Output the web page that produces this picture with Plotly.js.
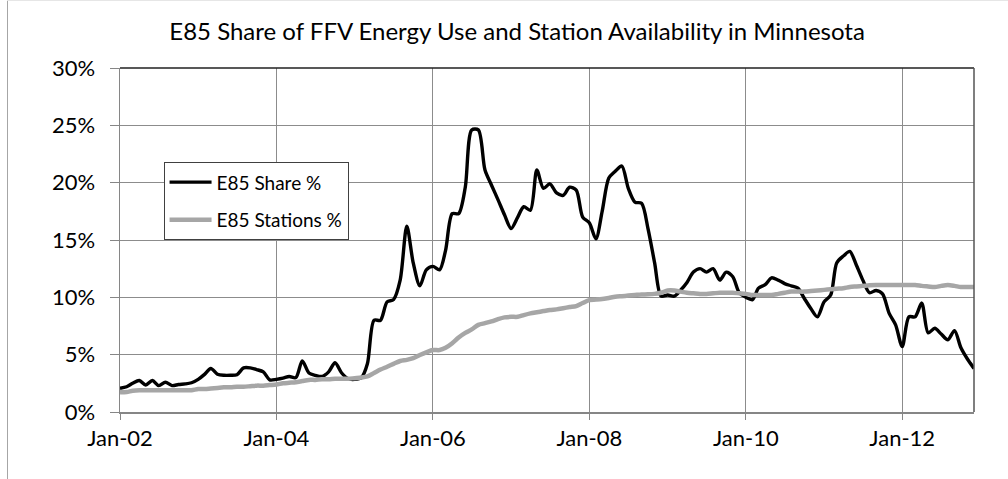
<!DOCTYPE html>
<html>
<head>
<meta charset="utf-8">
<script src="https://cdn.plot.ly/plotly-3.0.1.min.js"></script>
<style>
html,body{margin:0;padding:0;background:#fff;}
#chart{width:1008px;height:479px;position:relative;}
#lborder{position:absolute;left:7px;top:0;width:1px;height:479px;background:#a6a6a6;}
#tborder{position:absolute;left:7px;top:0;width:1001px;height:1px;background:#e6e6e6;}
</style>
</head>
<body>
<div id="chart"></div>
<div id="lborder"></div>
<div id="tborder"></div>
<script>
// Monthly data, Jan 2002 .. Dec 2012 (percent)
const startYear = 2002;
const e85Share = [
  2.07, 2.2, 2.5, 2.75, 2.35, 2.75, 2.3, 2.6, 2.3, 2.4, 2.45, 2.55,
  2.85, 3.3, 3.8, 3.3, 3.2, 3.2, 3.25, 3.85, 3.85, 3.7, 3.5, 2.8,
  2.85, 2.95, 3.1, 3.0, 4.45, 3.4, 3.2, 3.1, 3.5, 4.3, 3.4, 2.9,
  2.85, 3.0, 4.2, 8.0, 8.0, 9.6, 9.8, 11.5, 16.2, 13.0, 11.0, 12.4,
  12.7, 12.4, 14.1, 17.3, 17.3, 19.6, 24.6, 24.6, 21.1, 19.8, 18.5, 17.2,
  16.0, 17.0, 17.9, 17.6, 21.1, 19.5, 19.9, 19.1, 18.9, 19.6, 19.35, 17.0,
  16.5, 15.1, 17.5, 20.4, 21.0, 21.45, 19.5, 18.3, 18.2, 16.0, 13.0, 10.1,
  10.2, 10.1, 10.6, 11.3, 12.2, 12.5, 12.2, 12.5, 11.5, 12.2, 11.8, 10.4,
  10.0, 9.8, 10.8, 11.1, 11.7, 11.5, 11.2, 11.0, 10.8, 9.9, 9.0, 8.3,
  9.6, 10.2, 13.0, 13.6, 14.0, 12.8, 11.5, 10.4, 10.6, 10.3, 8.6, 7.6,
  5.7, 8.3, 8.3, 9.5, 6.9, 7.3, 6.8, 6.3, 7.1, 5.6, 4.6, 3.8
];
const e85Stations = [
  1.72, 1.75, 1.85, 1.9, 1.9, 1.9, 1.9, 1.9, 1.9, 1.9, 1.9, 1.9,
  2.0, 2.0, 2.05, 2.1, 2.15, 2.15, 2.2, 2.2, 2.25, 2.3, 2.3, 2.35,
  2.4, 2.5, 2.55, 2.6, 2.7, 2.8, 2.8, 2.85, 2.85, 2.9, 2.9, 2.9,
  2.95, 3.0, 3.1, 3.4, 3.7, 3.95, 4.2, 4.45, 4.55, 4.7, 4.97, 5.2,
  5.4, 5.4, 5.6, 6.0, 6.5, 6.9, 7.2, 7.6, 7.75, 7.9, 8.1, 8.25,
  8.3, 8.3, 8.45, 8.6, 8.7, 8.8, 8.9, 8.95, 9.05, 9.15, 9.24, 9.5,
  9.76, 9.8, 9.85, 9.95, 10.05, 10.1, 10.15, 10.2, 10.25, 10.26, 10.3, 10.4,
  10.6, 10.6, 10.5, 10.4, 10.35, 10.3, 10.3, 10.35, 10.4, 10.4, 10.4, 10.35,
  10.3, 10.2, 10.2, 10.2, 10.2, 10.3, 10.4, 10.5, 10.5, 10.5, 10.55, 10.6,
  10.65, 10.7, 10.75, 10.8, 10.9, 10.95, 11.0, 11.05, 11.07, 11.07, 11.07, 11.07,
  11.07, 11.07, 11.07, 11.0, 10.95, 10.9, 11.0, 11.07, 11.0, 10.9, 10.9, 10.9
];
const tickDates = ['2002-01-01','2004-01-01','2006-01-01','2008-01-01','2010-01-01','2012-01-01'];
const tickLabels = ['Jan-02','Jan-04','Jan-06','Jan-08','Jan-10','Jan-12'];
const yTicks = [0, 5, 10, 15, 20, 25, 30];
const yTickLabels = ['0%','5%','10%','15%','20%','25%','30%'];

function monthDate(i){
  const y = startYear + Math.floor(i/12);
  const m = (i % 12) + 1;
  return y + '-' + (m < 10 ? '0' + m : m) + '-01';
}
const dates = e85Share.map((_, i) => monthDate(i));

const FONT = "Lato, sans-serif";

const traces = [
  {
    x: dates, y: e85Share, type: 'scatter', mode: 'lines', name: 'E85 Share %',
    line: {color: '#000000', width: 3.4, shape: 'spline', smoothing: 0.8},
    legendgroup: 'a'
  },
  {
    x: dates, y: e85Stations, type: 'scatter', mode: 'lines', name: 'E85 Stations %',
    line: {color: '#a6a6a6', width: 4.5, shape: 'spline', smoothing: 0.8},
    legendgroup: 'b'
  }
];

const layout = {
  width: 1008, height: 479,
  margin: {l: 120, r: 34, t: 68, b: 67, pad: 0},
  paper_bgcolor: '#ffffff', plot_bgcolor: '#ffffff',
  font: {family: FONT, size: 22, color: '#000000'},
  title: {
    text: 'E85 Share of FFV Energy Use and Station Availability in Minnesota',
    font: {family: FONT, size: 24, color: '#000000'},
    x: 0.465, xref: 'paper', xanchor: 'center',
    y: 0.933, yref: 'container', yanchor: 'middle'
  },
  xaxis: {
    type: 'date',
    range: ['2002-01-01', '2012-12-01'],
    tickmode: 'array', tickvals: tickDates, ticktext: tickLabels,
    showgrid: true, gridcolor: '#8c8c8c', gridwidth: 1,
    showline: true, linecolor: '#868686', linewidth: 1.5,
    ticks: 'outside', ticklen: 6, tickcolor: '#868686',
    ticklabelstandoff: 0,
    tickfont: {family: FONT, size: 22, color: '#000000'},
    zeroline: false, fixedrange: true
  },
  yaxis: {
    range: [0, 30],
    tickmode: 'array', tickvals: yTicks, ticktext: yTickLabels,
    showgrid: true, gridcolor: '#8c8c8c', gridwidth: 1,
    showline: true, linecolor: '#868686', linewidth: 1.5,
    ticks: 'outside', ticklen: 9, tickcolor: '#868686',
    ticklabelstandoff: 10,
    tickfont: {family: FONT, size: 22, color: '#000000'},
    zeroline: false, fixedrange: true
  },
  shapes: [
    {type: 'line', xref: 'paper', yref: 'paper', x0: 0, x1: 1, y0: 1, y1: 1,
     line: {color: '#202020', width: 1.5}, layer: 'above'},
    {type: 'line', xref: 'paper', yref: 'paper', x0: 1, x1: 1, y0: 0, y1: 1,
     line: {color: '#555555', width: 1.5}, layer: 'above'}
  ],
  showlegend: true,
  legend: {
    x: 0.051, y: 0.726, xanchor: 'left', yanchor: 'top',
    bgcolor: '#ffffff', bordercolor: '#404040', borderwidth: 1,
    font: {family: FONT, size: 19, color: '#000000'},
    tracegroupgap: 10, itemwidth: 42,
    traceorder: 'grouped'
  }
};

Plotly.newPlot('chart', traces, layout, {displayModeBar: false, staticPlot: true});
</script>
</body>
</html>
